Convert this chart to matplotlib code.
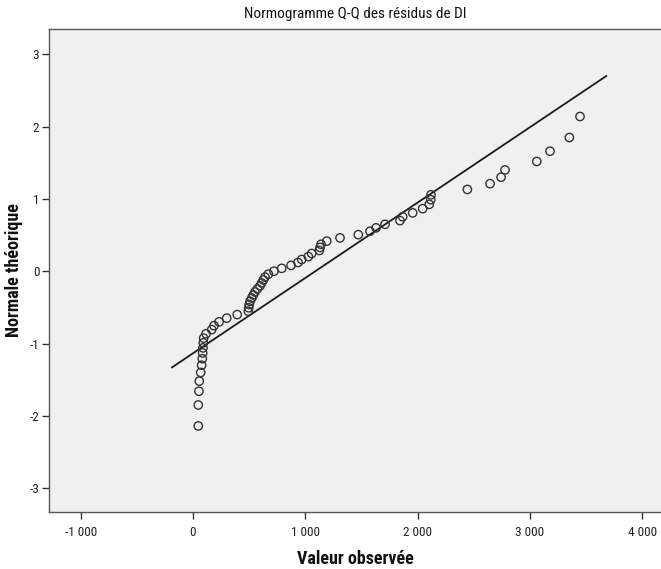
import matplotlib
matplotlib.use("Agg")
import matplotlib.pyplot as plt
from matplotlib import font_manager as fm
from matplotlib.ticker import FuncFormatter

observed = [47, 47, 53, 56, 69, 77, 83, 86, 89, 92, 95, 116, 167, 187, 232, 300,
            394, 492, 496, 501, 508, 523, 537, 552, 573, 597, 612, 626, 641, 671,
            721, 790, 873, 935, 968, 1027, 1057, 1125, 1131, 1140, 1191, 1309,
            1472, 1576, 1630, 1710, 1843, 1867, 1956, 2045, 2104, 2117, 2119,
            2443, 2645, 2743, 2778, 3061, 3179, 3351, 3446]
theoretical = [-2.14, -1.85, -1.66, -1.52, -1.40, -1.30, -1.21, -1.13, -1.06, -0.99,
               -0.925, -0.865, -0.807, -0.753, -0.70, -0.649, -0.60, -0.553, -0.506,
               -0.461, -0.416, -0.372, -0.329, -0.287, -0.245, -0.203, -0.162, -0.121,
               -0.081, -0.04, 0.0, 0.04, 0.081, 0.121, 0.162, 0.203, 0.245, 0.287,
               0.329, 0.372, 0.416, 0.461, 0.506, 0.553, 0.60, 0.649, 0.70, 0.753,
               0.807, 0.865, 0.925, 0.989, 1.057, 1.131, 1.211, 1.30, 1.401, 1.518,
               1.66, 1.849, 2.14]

# Reference line end points
line_x = [-187, 3680]
line_y = [-1.33, 2.70]

x_ticks = [-1000, 0, 1000, 2000, 3000, 4000]
y_ticks = [-3, -2, -1, 0, 1, 2, 3]

title = "Normogramme Q-Q des résidus de DI"
xlabel = "Valeur observée"
ylabel = "Normale théorique"

# Look for a condensed / narrow sans font if one is installed
def find_condensed(bold):
    best = None
    for f in fm.fontManager.ttflist:
        name = (f.name + " " + f.fname).lower()
        if 'mono' in name:
            continue
        cond = ('narrow' in name or 'condensed' in name or
                str(f.stretch) in ('condensed', 'semi-condensed', 'extra-condensed'))
        if not cond:
            continue
        if 'italic' in name or 'oblique' in name or f.style != 'normal':
            continue
        w = f.weight if isinstance(f.weight, int) else (700 if 'bold' in str(f.weight) else 400)
        isbold = w >= 600 or 'bold' in name
        if isbold != bold:
            continue
        if any(k in name for k in ('light', 'thin', 'black', 'semibold', 'medium', 'extrabold')):
            continue
        if 'liberation' in name:
            score = 5
        elif 'roboto' in name:
            score = 4
        elif 'dejavu' in name:
            score = 3
        elif 'open' in name:
            score = 2
        else:
            score = 1
        if best is None or score > best[0]:
            best = (score, f.fname)
    return best[1] if best else None

reg_file = find_condensed(False)
bold_file = find_condensed(True)

def fp(size, bold=False):
    f = bold_file if bold else reg_file
    if f:
        return fm.FontProperties(fname=f, size=size)
    return fm.FontProperties(family='Liberation Sans', size=size * 0.8,
                             weight='bold' if bold else 'normal')

plt.rcParams['font.family'] = ['Liberation Sans', 'DejaVu Sans']

fig = plt.figure(figsize=(6.61, 5.69), dpi=100)
fig.patch.set_facecolor('white')
ax = fig.add_axes([49/661, 1 - 512/569, 1 - 49/661, (512 - 29)/569])
ax.set_facecolor('#f0f0f0')

ax.plot(line_x, line_y, color='#1a1a1a', lw=1.3, zorder=2)
ax.scatter(observed, theoretical, s=36, facecolors='none', edgecolors='#333333',
           linewidths=1.0, zorder=3)

ax.set_xlim(-1282, 4167)
ax.set_ylim(-3.33, 3.35)
ax.set_xticks(x_ticks)
ax.set_yticks(y_ticks)

def fmt_thousands(v, pos):
    return f"{int(round(v)):,}".replace(",", " ")

ax.xaxis.set_major_formatter(FuncFormatter(fmt_thousands))
ax.yaxis.set_major_formatter(FuncFormatter(lambda v, p: f"{int(v)}"))

for side in ['left', 'bottom', 'top']:
    ax.spines[side].set_color('#555555')
    ax.spines[side].set_linewidth(1.0)
ax.spines['right'].set_visible(False)

ax.tick_params(axis='both', direction='out', length=5, width=1, color='#333333',
               labelcolor='#222222', pad=2)
ax.tick_params(axis='x', pad=5)
for lab in ax.get_xticklabels() + ax.get_yticklabels():
    lab.set_fontproperties(fp(9.5))

ax.set_title(title, fontproperties=fp(11), color='#111111', pad=8)
ax.set_xlabel(xlabel, fontproperties=fp(13, bold=True), color='#111111', labelpad=8)
ax.set_ylabel(ylabel, fontproperties=fp(13, bold=True), color='#111111')
ax.yaxis.set_label_coords(-0.043, 0.5)

fig.savefig("out.png", dpi=100, facecolor='white')
